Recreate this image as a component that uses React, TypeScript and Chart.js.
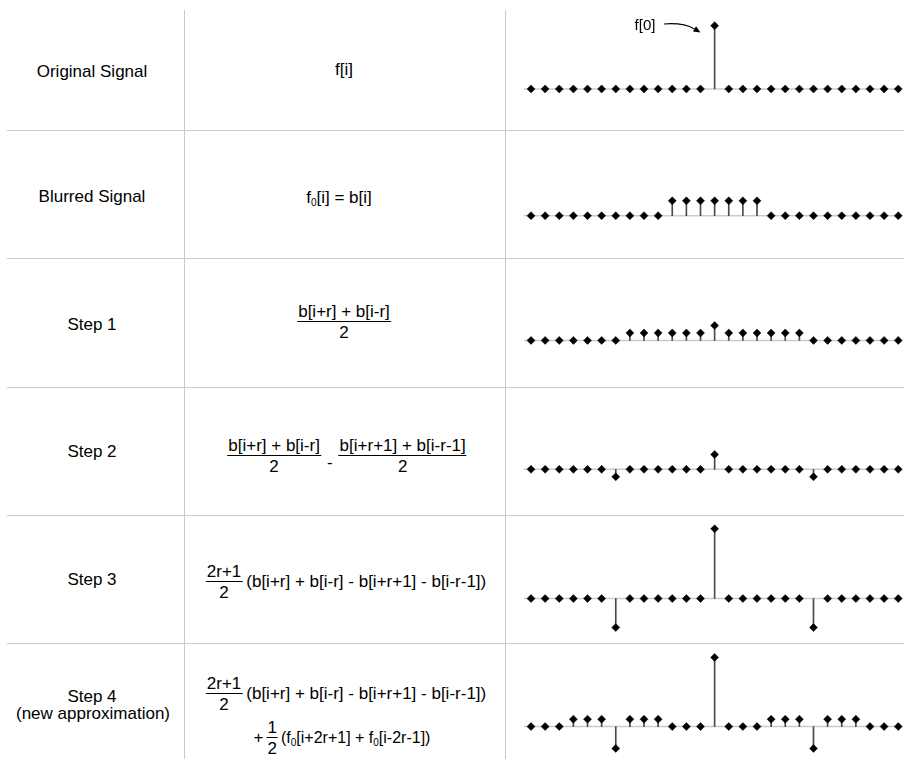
import React, { useEffect, useRef } from "react";
import { Chart, registerables } from "chart.js";

Chart.register(...registerables);

// ---------- data ----------
const sampleIndex = [-13, -12, -11, -10, -9, -8, -7, -6, -5, -4, -3, -2, -1, 0, 1, 2, 3, 4, 5, 6, 7, 8, 9, 10, 11, 12, 13];

const originalSignal = [0, 0, 0, 0, 0, 0, 0, 0, 0, 0, 0, 0, 0, 4.25, 0, 0, 0, 0, 0, 0, 0, 0, 0, 0, 0, 0, 0];
const blurredSignal = [0, 0, 0, 0, 0, 0, 0, 0, 0, 0, 1, 1, 1, 1, 1, 1, 1, 0, 0, 0, 0, 0, 0, 0, 0, 0, 0];
const step1Signal = [0, 0, 0, 0, 0, 0, 0, 0.5, 0.5, 0.5, 0.5, 0.5, 0.5, 1, 0.5, 0.5, 0.5, 0.5, 0.5, 0.5, 0, 0, 0, 0, 0, 0, 0];
const step2Signal = [0, 0, 0, 0, 0, 0, -0.5, 0, 0, 0, 0, 0, 0, 1, 0, 0, 0, 0, 0, 0, -0.5, 0, 0, 0, 0, 0, 0];
const step3Signal = [0, 0, 0, 0, 0, 0, -1.95, 0, 0, 0, 0, 0, 0, 4.69, 0, 0, 0, 0, 0, 0, -1.95, 0, 0, 0, 0, 0, 0];
const step4Signal = [0, 0, 0, 0.5, 0.5, 0.5, -1.48, 0.5, 0.5, 0.5, 0, 0, 0, 4.69, 0, 0, 0, 0.5, 0.5, 0.5, -1.48, 0.5, 0.5, 0.5, 0, 0, 0];

const rowLabels = ["Original Signal", "Blurred Signal", "Step 1", "Step 2", "Step 3", "Step 4"];
const step4Note = "(new approximation)";
const peakLabel = "f[0]";

// ---------- layout ----------
const FONT = '"Liberation Sans", Arial, Helvetica, sans-serif';
const LINE_COLOR = "#cacaca";
const PLOT_LEFT = 506;
const PLOT_WIDTH = 398;
const FIRST_X_PX = 527; // pixel of first sample
const STEP_PX = 14.45;
const PX_PER_UNIT = 16;

const rowGeom = [
  { top: 0, height: 130, axis: 90.7, labelY: 71.5 },
  { top: 131, height: 127, axis: 217.3, labelY: 197 },
  { top: 259, height: 128, axis: 341.7, labelY: 325 },
  { top: 388, height: 127, axis: 470.7, labelY: 452 },
  { top: 516, height: 127, axis: 600, labelY: 580 },
  { top: 644, height: 115, axis: 728.7, labelY: 697 },
];
const hLines = [130, 258, 387, 515, 643];
const vLines = [184, 505];

function StemChart({ values, top, height, axis }: { values: number[]; top: number; height: number; axis: number }) {
  const ref = useRef<HTMLCanvasElement>(null);
  useEffect(() => {
    const canvas = ref.current;
    if (!canvas) return;
    const xMin = sampleIndex[0] - (FIRST_X_PX - PLOT_LEFT) / STEP_PX;
    const xMax = xMin + PLOT_WIDTH / STEP_PX;
    const yMax = (axis - top) / PX_PER_UNIT;
    const yMin = -(top + height - axis) / PX_PER_UNIT;
    const pts = sampleIndex.map((x, i) => ({ x, y: values[i] }));
    const chart = new Chart(canvas, {
      type: "bar",
      data: {
        datasets: [
          {
            type: "line",
            data: pts,
            showLine: false,
            pointStyle: "rectRot",
            pointRadius: 4,
            pointBackgroundColor: "#000",
            pointBorderColor: "#000",
            pointBorderWidth: 0.5,
            clip: false,
            order: 0,
          } as any,
          {
            type: "bar",
            data: pts,
            barThickness: 1,
            backgroundColor: "#4a4a4a",
            borderWidth: 0,
            clip: false,
            order: 1,
          } as any,
          {
            type: "line",
            data: [
              { x: sampleIndex[0] - 0.5, y: 0 },
              { x: xMax + 1, y: 0 },
            ],
            borderColor: "#cccccc",
            borderWidth: 1.5,
            pointRadius: 0,
            order: 2,
          } as any,
        ],
      },
      options: {
        responsive: false,
        animation: false,
        events: [],
        layout: { padding: 0 },
        plugins: { legend: { display: false }, tooltip: { enabled: false } },
        scales: {
          x: { type: "linear", min: xMin, max: xMax, offset: false, display: false, grid: { offset: false } },
          y: { type: "linear", min: yMin, max: yMax, display: false },
        },
      } as any,
    });
    return () => chart.destroy();
  }, [values, top, height, axis]);
  return (
    <canvas
      ref={ref}
      width={PLOT_WIDTH}
      height={height}
      style={{ position: "absolute", left: PLOT_LEFT, top, width: PLOT_WIDTH, height }}
    />
  );
}

const Sub0 = () => (
  <sub style={{ fontSize: "10px", verticalAlign: "-3px", lineHeight: 0 }}>0</sub>
);

function Frac({ num, den }: { num: React.ReactNode; den: React.ReactNode }) {
  return (
    <span style={{ display: "inline-flex", flexDirection: "column", alignItems: "center" }}>
      <span style={{ lineHeight: "17px", padding: "0 1px" }}>{num}</span>
      <span style={{ alignSelf: "stretch", borderTop: "1px solid #000", margin: "1px 0 2px" }} />
      <span style={{ lineHeight: "17px" }}>{den}</span>
    </span>
  );
}

function Group({ cx, cy, children, size = 17 }: { cx: number; cy: number; children: React.ReactNode; size?: number }) {
  return (
    <div
      style={{
        position: "absolute",
        left: cx,
        top: cy,
        transform: "translate(-50%, -50%)",
        display: "flex",
        alignItems: "center",
        whiteSpace: "nowrap",
        fontSize: size,
        lineHeight: "20px",
      }}
    >
      {children}
    </div>
  );
}

const signals = [originalSignal, blurredSignal, step1Signal, step2Signal, step3Signal, step4Signal];

export default function App() {
  return (
    <div
      style={{
        position: "absolute",
        left: 0,
        top: 0,
        width: 904,
        height: 759,
        overflow: "hidden",
        background: "#fff",
        fontFamily: FONT,
        color: "#000",
      }}
    >
      {hLines.map((y) => (
        <div key={"h" + y} style={{ position: "absolute", left: 7, top: y, width: 897, height: 1, background: LINE_COLOR }} />
      ))}
      {vLines.map((x) => (
        <div key={"v" + x} style={{ position: "absolute", left: x, top: 10, width: 1, height: 749, background: LINE_COLOR }} />
      ))}

      {/* left column labels */}
      {rowLabels.slice(0, 5).map((t, i) => (
        <Group key={t} cx={92} cy={rowGeom[i].labelY}>{t}</Group>
      ))}
      <Group cx={92} cy={rowGeom[5].labelY}>{rowLabels[5]}</Group>
      <Group cx={93} cy={rowGeom[5].labelY + 17}>{step4Note}</Group>

      {/* middle column formulas */}
      <Group cx={344} cy={70}>f[i]</Group>
      <Group cx={339} cy={198}>
        <span>f<Sub0 />[i] = b[i]</span>
      </Group>
      <Group cx={344} cy={321.5}>
        <Frac num="b[i+r] + b[i-r]" den="2" />
      </Group>
      <Group cx={347} cy={456}>
        <Frac num="b[i+r] + b[i-r]" den="2" />
        <span style={{ margin: "0 6px", position: "relative", top: 7 }}>-</span>
        <Frac num="b[i+r+1] + b[i-r-1]" den="2" />
      </Group>
      <Group cx={346} cy={582}>
        <Frac num="2r+1" den="2" />
        <span style={{ marginLeft: 4 }}>(b[i+r] + b[i-r] - b[i+r+1] - b[i-r-1])</span>
      </Group>
      <Group cx={346} cy={694}>
        <Frac num="2r+1" den="2" />
        <span style={{ marginLeft: 4 }}>(b[i+r] + b[i-r] - b[i+r+1] - b[i-r-1])</span>
      </Group>
      <Group cx={342} cy={738}>
        <span style={{ marginRight: 3 }}>+</span>
        <Frac num="1" den="2" />
        <span style={{ marginLeft: 3, fontSize: 16 }}>
          (f<Sub0 />[i+2r+1] + f<Sub0 />[i-2r-1])
        </span>
      </Group>

      {/* stem plots */}
      {signals.map((s, i) => (
        <StemChart key={i} values={s} top={rowGeom[i].top} height={rowGeom[i].height} axis={rowGeom[i].axis} />
      ))}

      {/* f[0] annotation */}
      <Group cx={645} cy={25} size={15}>{peakLabel}</Group>
      <svg width={904} height={759} style={{ position: "absolute", left: 0, top: 0, pointerEvents: "none" }}>
        <path d="M 664 24 Q 683 22.5 694.5 28.9" fill="none" stroke="#000" strokeWidth={1.2} />
        <polygon points="700.5,32.5 692.96,31.47 696.04,26.33" fill="#000" />
      </svg>
    </div>
  );
}
